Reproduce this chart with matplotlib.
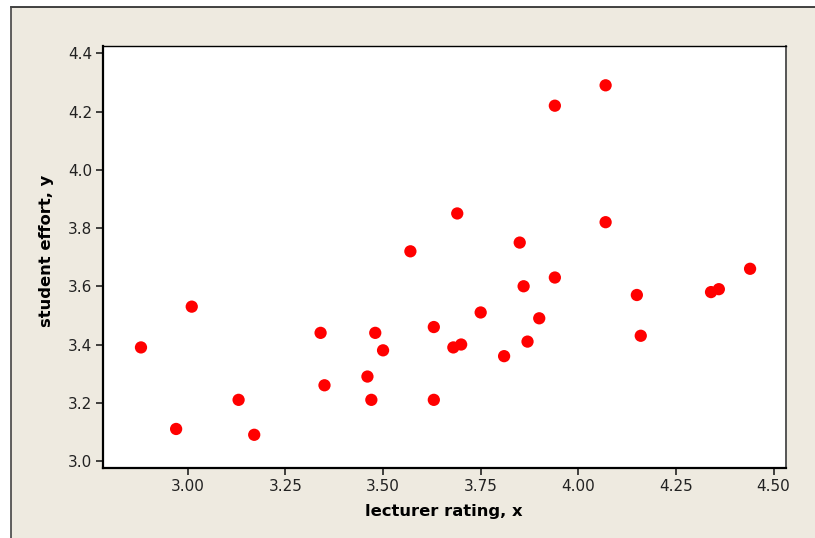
import matplotlib
matplotlib.use("Agg")
import matplotlib.pyplot as plt
from matplotlib.patches import Rectangle
from matplotlib.lines import Line2D

# lecturer rating (x) and student effort (y)
rating = [2.88, 2.97, 3.01, 3.13, 3.17, 3.34, 3.35, 3.46, 3.47, 3.48, 3.50,
          3.57, 3.63, 3.63, 3.68, 3.70, 3.69, 3.75, 3.81, 3.85, 3.86, 3.87,
          3.90, 3.94, 3.94, 4.07, 4.07, 4.15, 4.16, 4.34, 4.36, 4.44]
effort = [3.39, 3.11, 3.53, 3.21, 3.09, 3.44, 3.26, 3.29, 3.21, 3.44, 3.38,
          3.72, 3.46, 3.21, 3.39, 3.40, 3.85, 3.51, 3.36, 3.75, 3.60, 3.41,
          3.49, 3.63, 4.22, 4.29, 3.82, 3.57, 3.43, 3.58, 3.59, 3.66]
xticks = [3.00, 3.25, 3.50, 3.75, 4.00, 4.25, 4.50]
yticks = [3.0, 3.2, 3.4, 3.6, 3.8, 4.0, 4.2, 4.4]

W, H = 815, 538
fig = plt.figure(figsize=(W / 100, H / 100), dpi=100, facecolor="white")

# beige panel with dark top/left edges
fig.patches.append(Rectangle((11 / W, 0), 1, 1 - 7 / H, transform=fig.transFigure,
                             facecolor="#eeeae0", edgecolor="none", zorder=-2))
fig.lines.append(Line2D([11 / W, 1], [1 - 7 / H, 1 - 7 / H], transform=fig.transFigure,
                        color="#222222", lw=1.2, zorder=-1))
fig.lines.append(Line2D([11 / W, 11 / W], [0, 1 - 7 / H], transform=fig.transFigure,
                        color="#444444", lw=1.2, zorder=-1))

# plot area in pixels
left, right, top, bottom = 103.5, 786, 45.7, 467.7
ax = fig.add_axes([left / W, 1 - bottom / H, (right - left) / W, (bottom - top) / H])
ax.set_facecolor("white")

ax.scatter(rating, effort, s=78, color="#ff0000", edgecolors="none", zorder=3)

ax.set_xlim(2.784, 4.532)
ax.set_ylim(2.977, 4.426)
ax.set_xticks(xticks)
ax.set_xticklabels([f"{v:.2f}" for v in xticks])
ax.set_yticks(yticks)
ax.set_yticklabels([f"{v:.1f}" for v in yticks])

ax.spines["left"].set_linewidth(1.6)
ax.spines["bottom"].set_linewidth(1.6)
ax.spines["top"].set_linewidth(1.0)
ax.spines["right"].set_linewidth(1.4)
ax.spines["right"].set_color("#555555")
ax.tick_params(direction="out", length=5, width=1.2, labelsize=11,
               colors="#222222", pad=3)

ax.set_xlabel("lecturer rating, x", fontsize=11.8, fontweight="bold", va="center")
ax.set_ylabel("student effort, y", fontsize=11.8, fontweight="bold", va="center")
ax.xaxis.set_label_coords((443.5 - left) / (right - left), -(511.7 - bottom) / (bottom - top))
ax.yaxis.set_label_coords(-(left - 46.7) / (right - left), (bottom - 251) / (bottom - top))

fig.savefig("out.png", dpi=100, facecolor=fig.get_facecolor())
